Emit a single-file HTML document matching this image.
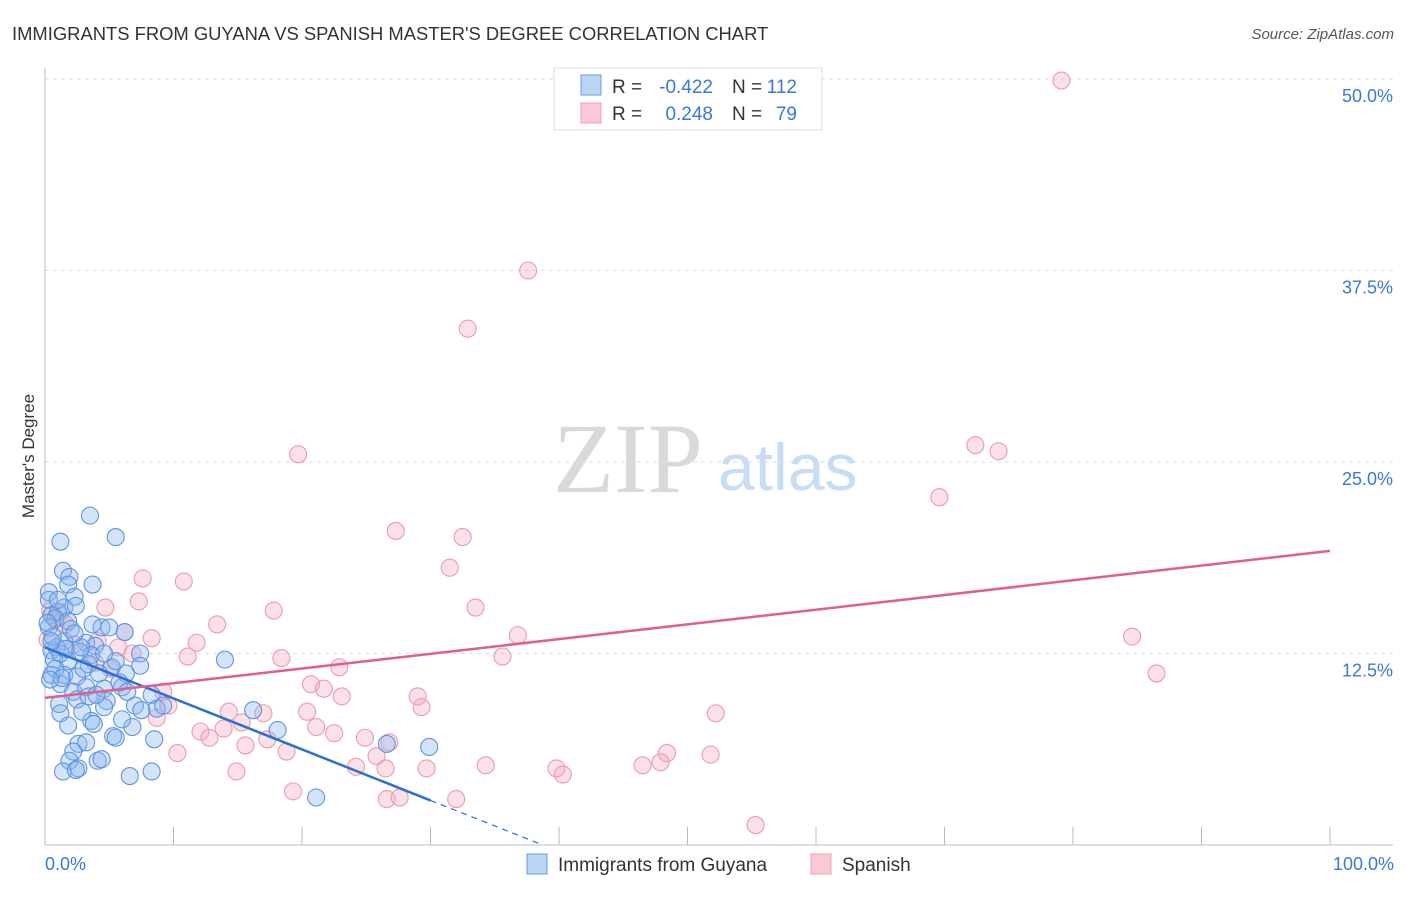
<!DOCTYPE html>
<html><head><meta charset="utf-8"><style>
body{margin:0;background:#fff;font-family:"Liberation Sans",sans-serif}
</style></head><body>
<svg id="chart" width="1406" height="892" viewBox="0 0 1406 892" xmlns="http://www.w3.org/2000/svg" font-family="Liberation Sans, sans-serif">
<text x="12" y="40" font-size="18.4" fill="#333">IMMIGRANTS FROM GUYANA VS SPANISH MASTER'S DEGREE CORRELATION CHART</text>
<text x="1394" y="39" font-size="15" fill="#555" font-style="italic" text-anchor="end">Source: ZipAtlas.com</text>
<g>
<text x="553" y="492" font-size="100" fill="#d9d9d9" style="font-family:'Liberation Serif',serif">ZIP</text>
<text x="718" y="490" font-size="66" fill="#c8dcf3">atlas</text>
</g>
<g id="grid"></g>
<g id="axes"></g>
<g id="points"></g>
<g id="lines"></g>
<text x="34" y="456" font-size="17" fill="#333" text-anchor="middle" transform="rotate(-90 34 456)">Master's Degree</text>
<text x="45" y="870" font-size="18" fill="#3a78d8">0.0%</text>
<text x="1394" y="870" font-size="18" fill="#3a78d8" text-anchor="end">100.0%</text>
<g>
<rect x="554" y="68" width="268" height="62" fill="#fff" stroke="#ddd"/>
<rect x="581" y="75" width="20" height="20" fill="#bcd5f5" stroke="#6a9de0"/>
<rect x="581" y="103" width="20" height="20" fill="#fbc8d6" stroke="#eda0b5"/>
<text x="612" y="93" font-size="19" fill="#333">R =</text>
<text x="713" y="93" font-size="19" fill="#3a78d8" text-anchor="end">-0.422</text>
<text x="732" y="93" font-size="19" fill="#333">N =</text>
<text x="797" y="93" font-size="19" fill="#3a78d8" text-anchor="end">112</text>
<text x="612" y="120" font-size="19" fill="#333">R =</text>
<text x="713" y="120" font-size="19" fill="#3a78d8" text-anchor="end">0.248</text>
<text x="732" y="120" font-size="19" fill="#333">N =</text>
<text x="797" y="120" font-size="19" fill="#3a78d8" text-anchor="end">79</text>
</g>
<g>
<rect x="527" y="854" width="20" height="20" fill="#bcd5f5" stroke="#6a9de0"/>
<text x="558" y="871" font-size="19" fill="#333">Immigrants from Guyana</text>
<rect x="811" y="854" width="20" height="20" fill="#fbc8d6" stroke="#eda0b5"/>
<text x="842" y="871" font-size="19" fill="#333">Spanish</text>
</g>
</svg>
<script>
const yTicks=[12.5,25,37.5,50];
const yTickLabels=["12.5%","25.0%","37.5%","50.0%"];
const xTicks=[0,10,20,30,40,50,60,70,80,90,100];
const guyanaX=[3.5,5.5,1.2,1.4,1.9,1.8,3.7,0.3,2.3,0.3,1.5,2.4,0.5,1.0,0.8,1.8,4.4,5.0,6.2,0.3,1.5,3.2,3.9,0.5,0.9,2.7,3.6,7.4,0.7,1.8,3.4,5.2,7.4,0.5,1.5,2.5,4.2,6.3,1.2,2.2,3.2,4.6,6.0,8.3,2.5,3.4,4.8,1.1,4.6,7.0,8.7,9.2,1.2,7.5,3.6,1.8,3.8,6.8,5.3,8.5,2.6,3.2,5.5,2.2,1.9,4.1,4.4,1.4,2.6,2.4,6.6,8.3,21.1,14.0,16.2,18.1,26.6,29.9,0.2,0.6,2.0,1.2,0.8,2.8,5.8,4.0,3.0,5.5,6.4,0.5,1.6,2.3,3.7,4.6,1.0,1.3,6.0,0.4,2.9];
const guyanaY=[21.5,20.1,19.8,17.9,17.5,17.0,17.0,16.5,16.2,16.0,15.5,15.6,15.0,15.2,14.8,14.6,14.2,14.2,13.9,14.2,13.3,13.2,13.0,12.7,12.9,12.6,12.4,12.5,12.1,12.0,11.8,11.6,11.7,11.1,11.1,11.0,11.2,11.2,10.5,10.0,10.3,10.2,10.3,9.8,9.5,9.7,9.4,9.2,9.0,9.1,8.9,9.1,8.6,8.8,8.1,7.8,7.9,7.7,7.1,6.9,6.6,6.7,7.0,6.1,5.5,5.5,5.6,4.8,5.0,4.9,4.5,4.8,3.1,12.1,8.8,7.5,6.6,6.4,14.5,13.6,14.1,12.5,11.5,12.9,10.6,9.8,11.5,12.0,10.0,13.3,12.8,13.8,14.4,12.5,16.0,10.9,8.2,10.8,8.7];
const spanishX=[79.1,37.6,32.9,19.7,72.4,74.2,69.6,27.3,32.5,31.5,7.6,10.8,7.3,4.7,17.8,33.5,13.4,6.2,8.3,36.8,84.6,4.1,11.8,5.7,6.8,11.1,18.4,35.6,22.9,86.5,5.1,20.7,21.7,9.2,23.1,29.0,29.3,9.6,14.3,17.0,20.4,52.2,8.7,15.3,21.1,12.1,13.9,12.8,22.5,17.3,24.9,15.6,18.8,26.8,10.3,25.8,48.4,47.9,51.8,34.3,24.2,26.5,29.7,46.5,39.8,40.3,14.9,19.3,26.6,27.6,32.0,55.3,0.4,0.8,1.2,0.2,1.6,2.3,3.9];
const spanishY=[49.9,37.5,33.7,25.5,26.1,25.7,22.7,20.5,20.1,18.1,17.4,17.2,15.9,15.5,15.3,15.5,14.4,13.9,13.5,13.7,13.6,13.3,13.2,12.9,12.5,12.3,12.2,12.3,11.6,11.2,11.5,10.5,10.2,10.0,9.7,9.7,9.0,9.1,8.7,8.6,8.7,8.6,8.3,8.0,7.7,7.4,7.6,7.0,7.3,6.9,7.0,6.5,6.1,6.7,6.0,5.8,6.0,5.4,5.9,5.2,5.1,5.0,5.0,5.2,5.0,4.6,4.8,3.5,3.0,3.1,3.0,1.3,15.3,14.7,15.2,13.4,14.4,13.1,11.9];
const guyanaTrend=[12.9,-0.333];
const spanishTrend=[9.6,0.096];
const NS="http://www.w3.org/2000/svg";
const sx=v=>45+v*12.85, sy=v=>845-v*15.32;
function mk(tag,attrs,parent){const e=document.createElementNS(NS,tag);for(const k in attrs)e.setAttribute(k,attrs[k]);parent.appendChild(e);return e;}
const grid=document.getElementById('grid'),axes=document.getElementById('axes'),pts=document.getElementById('points'),lines=document.getElementById('lines');
yTicks.forEach((t,i)=>{
 const l=mk('line',{x1:45,x2:1393,y1:sy(t),y2:sy(t),stroke:'#ddd','stroke-dasharray':'4,4'},grid);
 
 
 const tx=mk('text',{x:1393,y:sy(t)+23,'font-size':18,fill:'#3a78d8','text-anchor':'end'},axes);
 tx.textContent=yTickLabels[i];
 
 
});
const ya=mk('line',{x1:45,x2:45,y1:68,y2:845,stroke:'#bbb'},axes);


const xa=mk('line',{x1:45,x2:1393,y1:845,y2:845,stroke:'#bbb'},axes);


xTicks.forEach(t=>{
 const l=mk('line',{x1:sx(t),x2:sx(t),y1:827,y2:845,stroke:'#bbb'},axes);
 
 
});
spanishX.forEach((x,i)=>{
 const c=mk('circle',{cx:sx(x),cy:sy(spanishY[i]),r:8.5,fill:'rgba(245,165,190,0.35)',stroke:'#eb9ab1','stroke-width':1.1},pts);
 
 
});
guyanaX.forEach((x,i)=>{
 const c=mk('circle',{cx:sx(x),cy:sy(guyanaY[i]),r:8.5,fill:'rgba(140,185,240,0.38)',stroke:'#6094e0','stroke-width':1.1},pts);
 
 
});
const gEnd=30, gZero=-guyanaTrend[0]/guyanaTrend[1];
const bl=mk('line',{x1:sx(0),y1:sy(guyanaTrend[0]),x2:sx(gEnd),y2:sy(guyanaTrend[0]+guyanaTrend[1]*gEnd),stroke:'#2a6fd6','stroke-width':2.5},lines);


const bd=mk('line',{x1:sx(gEnd),y1:sy(guyanaTrend[0]+guyanaTrend[1]*gEnd),x2:sx(gZero),y2:sy(0),stroke:'#2a6fd6','stroke-width':1.2,'stroke-dasharray':'6,5'},lines);


const pl=mk('line',{x1:sx(0),y1:sy(spanishTrend[0]),x2:sx(100),y2:sy(spanishTrend[0]+spanishTrend[1]*100),stroke:'#e0608a','stroke-width':2.5},lines);


</script>
</body></html>
